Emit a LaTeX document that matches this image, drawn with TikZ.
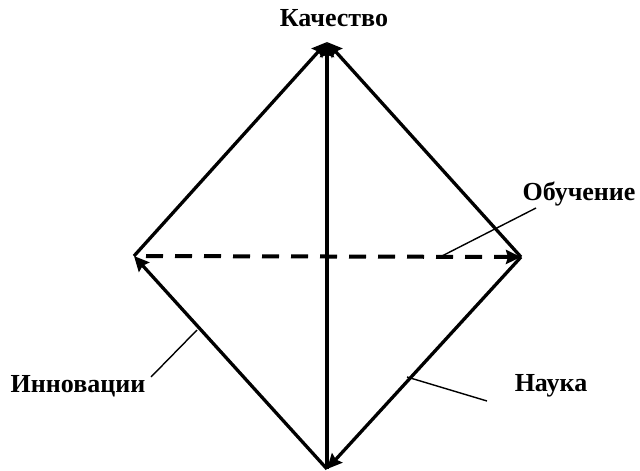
\documentclass[tikz,border=0pt]{standalone}
\usepackage{fontspec}
\setmainfont{Liberation Serif}
\usetikzlibrary{arrows.meta}
\begin{document}
\begin{tikzpicture}[x=1pt,y=-1pt,
  edge/.style={line width=3.3pt, -{Stealth[length=15pt,width=14pt,inset=2pt]}},
  dashededge/.style={edge, line width=4pt, dash pattern=on 17pt off 12pt, dash phase=17pt},
  leader/.style={line width=1.4pt},
  lbl/.style={font=\fontsize{26}{30}\selectfont\bfseries, inner sep=0pt}]
\useasboundingbox (0,0) rectangle (640,471);
% corners of the rhombus
\coordinate (T) at (327,42);
\coordinate (L) at (134,256);
\coordinate (R) at (521,257);
\coordinate (B) at (327,469);
% edges
\draw[edge] (L) -- (T);
\draw[edge] (R) -- (T);
\draw[edge] (B) -- (T);
\draw[edge] (R) -- (B);
\draw[edge] (B) -- (L);
\draw[dashededge] (L) -- (R);
% labels
\node[lbl] (q) at (334,18) {Качество};
\node[lbl] (o) at (579,194) {Обучение};
\node[lbl] (i) at (78,386) {Инновации};
\node[lbl] (n) at (551,386) {Наука};
% leader lines
\coordinate (oa) at (440,257);
\coordinate (ob) at (536,208);
\coordinate (ia) at (197,330);
\coordinate (ib) at (151,377);
\coordinate (na) at (407,377);
\coordinate (nb) at (487,401);
\draw[leader] (oa) -- (ob);
\draw[leader] (ia) -- (ib);
\draw[leader] (na) -- (nb);
\end{tikzpicture}
\end{document}
